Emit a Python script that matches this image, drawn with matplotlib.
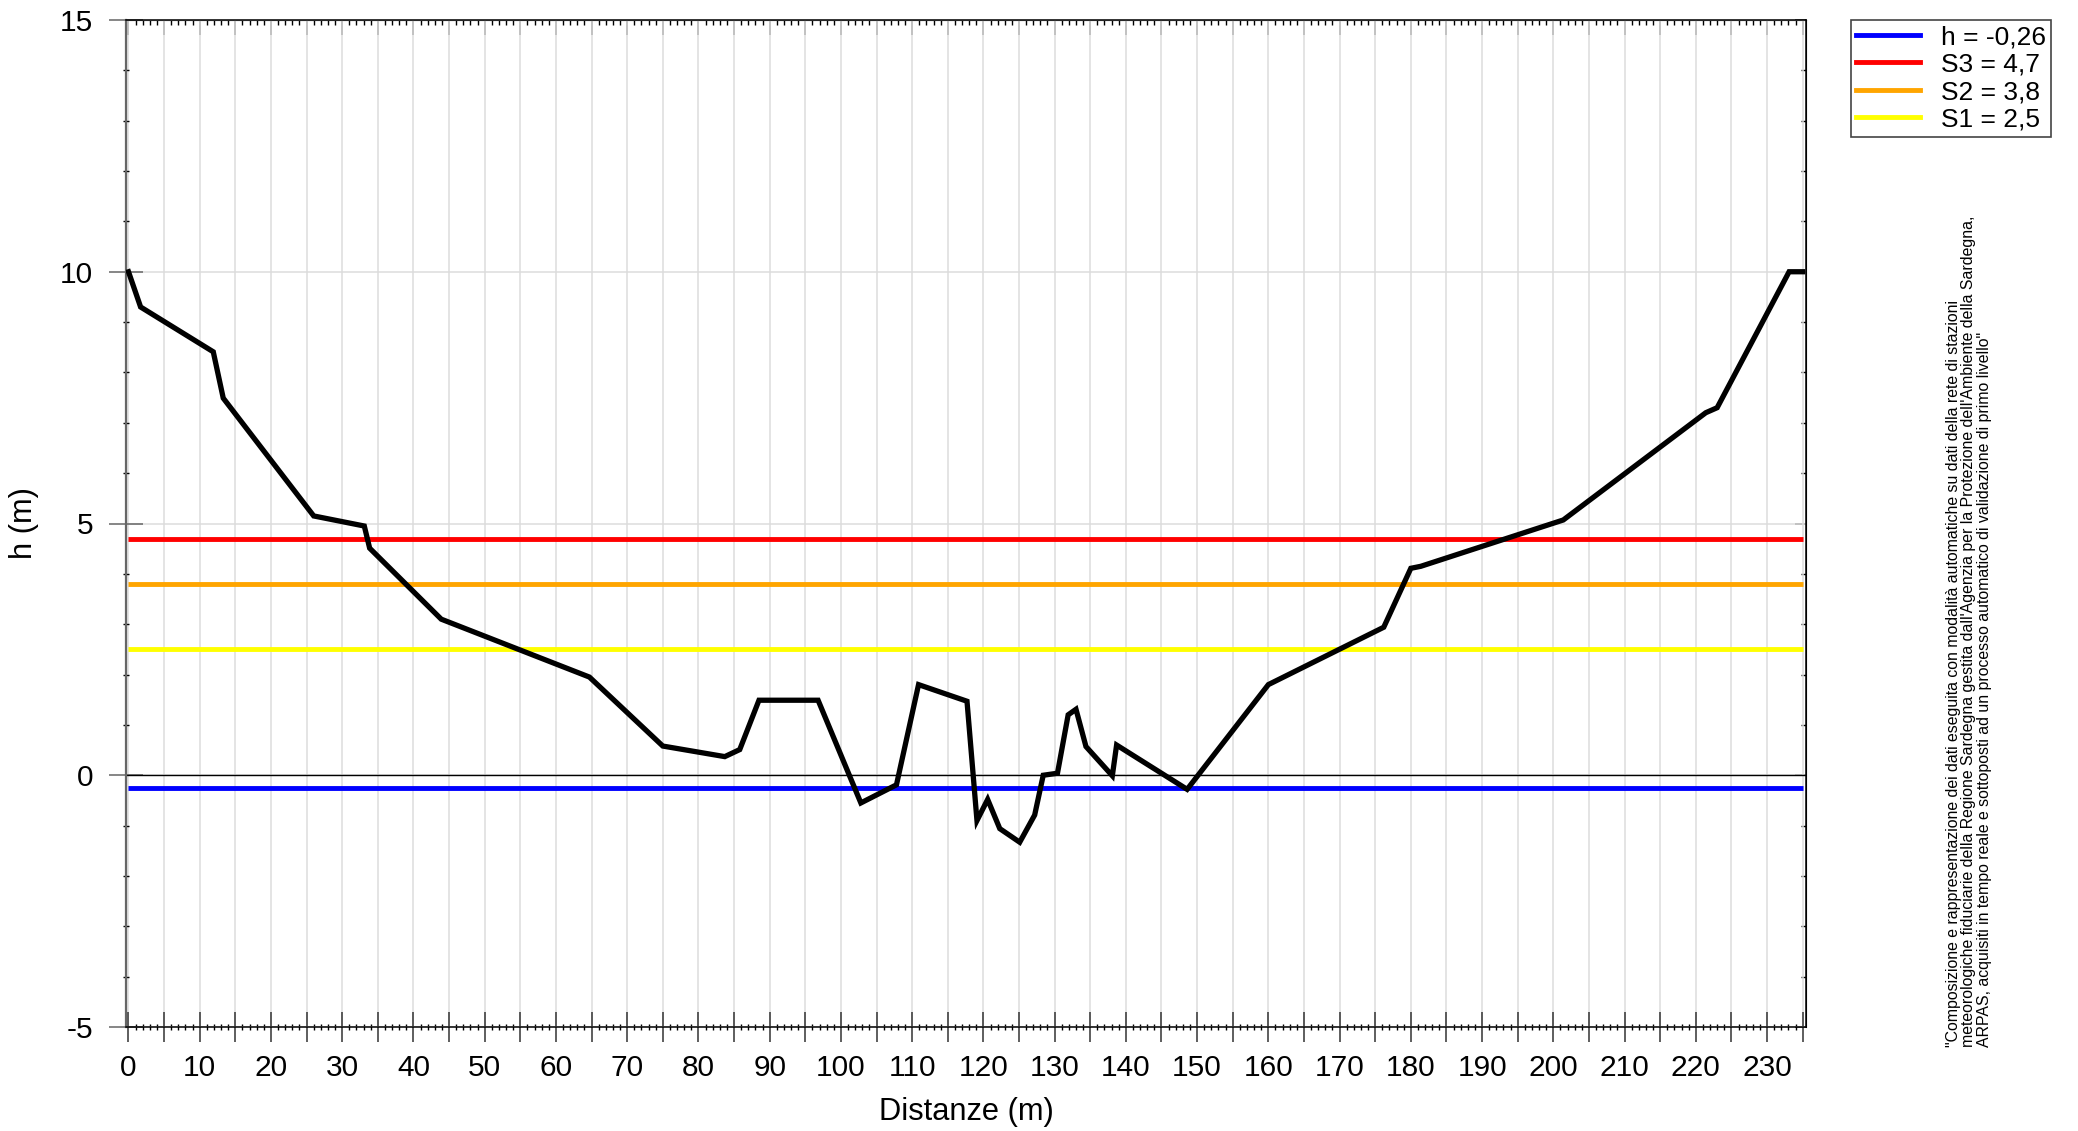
import matplotlib
matplotlib.use("Agg")
import matplotlib.pyplot as plt
from matplotlib import font_manager
from matplotlib.lines import Line2D
from matplotlib.ticker import MultipleLocator, FuncFormatter, NullFormatter

plt.rcParams["font.family"] = ["Liberation Sans", "DejaVu Sans"]
plt.rcParams["axes.unicode_minus"] = False

# profilo della sezione (distanza m, quota m)
distanze = [0, 1.7, 11.9, 13.3, 26.0, 33.1, 33.85, 43.9, 64.7, 75.0,
            83.7, 85.8, 88.5, 96.8, 102.8, 107.8, 110.9, 117.7, 119.1, 120.6,
            122.3, 125.1, 127.2, 128.4, 130.4, 131.9, 133.0, 134.4, 138.1, 138.7,
            148.6, 160.0, 176.2, 180.0, 181.4, 201.4, 221.4, 223.0, 233.1, 235.0]
quote = [10.0, 9.3, 8.41, 7.49, 5.15, 4.95, 4.51, 3.1, 1.95, 0.58,
         0.37, 0.51, 1.49, 1.49, -0.55, -0.19, 1.80, 1.47, -0.90, -0.48,
         -1.06, -1.33, -0.79, 0.0, 0.04, 1.2, 1.31, 0.57, -0.01, 0.6,
         -0.28, 1.8, 2.94, 4.11, 4.15, 5.07, 7.2, 7.3, 10.0, 10.0]

# livello attuale e soglie
livelli = [-0.26, 4.7, 3.8, 2.5]
etichette = ["h = -0,26", "S3 = 4,7", "S2 = 3,8", "S1 = 2,5"]
colori = ["#0000ff", "#ff0000", "#ffa500", "#ffff00"]

nota = ("\"Composizione e rappresentazione dei dati eseguita con modalità automatiche su dati della rete di stazioni\n"
        "meteorologiche fiduciarie della Regione Sardegna gestita dall'Agenzia per la Protezione dell'Ambiente della Sardegna,\n"
        "ARPAS, acquisiti in tempo reale e sottoposti ad un processo automatico di validazione di primo livello\"")

W, H = 2078, 1131
fig = plt.figure(figsize=(W / 100, H / 100), dpi=100)
ax = fig.add_axes([126 / W, 1 - 1027 / H, (1806 - 126) / W, (1027 - 20) / H])

ax.set_xlim(-0.35, 235.47)
ax.set_ylim(-5, 15)

# assi e tacche
ax.xaxis.set_major_locator(MultipleLocator(5))
ax.xaxis.set_minor_locator(MultipleLocator(1))
ax.xaxis.set_major_formatter(FuncFormatter(lambda v, p: f"{v:.0f}" if round(v) % 10 == 0 else ""))
ax.yaxis.set_major_locator(MultipleLocator(5))
ax.yaxis.set_minor_locator(MultipleLocator(1))

# griglia solo sulle tacche principali
ax.grid(False, which="minor")
ax.grid(True, which="major", axis="both", color="#dcdcdc", linewidth=1.1)
ax.set_axisbelow(True)
ax.axhline(0, color="black", linewidth=1.0, zorder=1)

# livelli
for lv, col in zip(livelli, colori):
    ax.hlines(lv, distanze[0], distanze[-1], colors=col, linewidth=3.5, zorder=2)

# profilo
ax.plot(distanze, quote, color="black", linewidth=3.8, zorder=3, solid_joinstyle="miter")

ax.tick_params(axis="x", which="major", direction="inout", length=22, width=1.1,
               labelsize=21.5, pad=8.5, color="#333333")
ax.tick_params(axis="x", which="minor", direction="inout", length=4.5, width=1.0, color="black")
ax.tick_params(axis="y", which="major", direction="inout", length=25, width=1.1,
               labelsize=21.5, pad=11, color="#666666")
ax.tick_params(axis="y", which="minor", direction="inout", length=4.5, width=1.0, color="black")

sec_x = ax.secondary_xaxis("top")
sec_x.xaxis.set_major_locator(MultipleLocator(5))
sec_x.xaxis.set_minor_locator(MultipleLocator(1))
sec_x.xaxis.set_major_formatter(NullFormatter())
sec_x.tick_params(which="major", direction="in", length=11, width=1.1, color="#444444")
sec_x.tick_params(which="minor", direction="in", length=3.5, width=1.0, color="black")

sec_y = ax.secondary_yaxis("right")
sec_y.yaxis.set_major_locator(MultipleLocator(5))
sec_y.yaxis.set_minor_locator(MultipleLocator(1))
sec_y.yaxis.set_major_formatter(NullFormatter())
sec_y.tick_params(which="major", direction="in", length=8, width=1.1, color="#444444")
sec_y.tick_params(which="minor", direction="in", length=3.5, width=1.0, color="black")

ax.spines["left"].set_color("#666666")
ax.spines["left"].set_linewidth(1.6)
for s in ["top", "bottom", "right"]:
    ax.spines[s].set_color("black")
    ax.spines[s].set_linewidth(1.1)

ax.set_xlabel("Distanze (m)", fontsize=22.2, labelpad=11)
ax.set_ylabel("h (m)", fontsize=22.2, labelpad=15)

# legenda
maniglie = [Line2D([], [], color=c, linewidth=3.5) for c in colori]
leg = ax.legend(maniglie, etichette, loc="upper left",
                bbox_to_anchor=(1851 / W, 1 - 20 / H), bbox_transform=fig.transFigure,
                borderaxespad=0, fontsize=19, frameon=True, fancybox=False,
                framealpha=1, edgecolor="#444444", handlelength=2.4,
                handletextpad=0.8, labelspacing=0.13, borderpad=0.2)
leg.get_frame().set_linewidth(1.2)

# nota verticale: dimensione adattata alla lunghezza della riga più lunga
try:
    font_manager.findfont("Liberation Sans Narrow", fallback_to_default=False)
    fam_nota = "Liberation Sans Narrow"
except ValueError:
    fam_nota = "Liberation Sans"
t = fig.text(1969 / W, 1 - 1047 / H, nota, rotation=90, ha="center", va="bottom",
             multialignment="left", fontsize=12, family=[fam_nota, "DejaVu Sans"],
             linespacing=1.0)
fig.canvas.draw()
alto = t.get_window_extent().height
size_nota = 12 * 835 / alto
t.set_fontsize(size_nota)
t.set_linespacing(20 / (size_nota * 100 / 72 * 1.17))

fig.savefig("out.png", dpi=100)
